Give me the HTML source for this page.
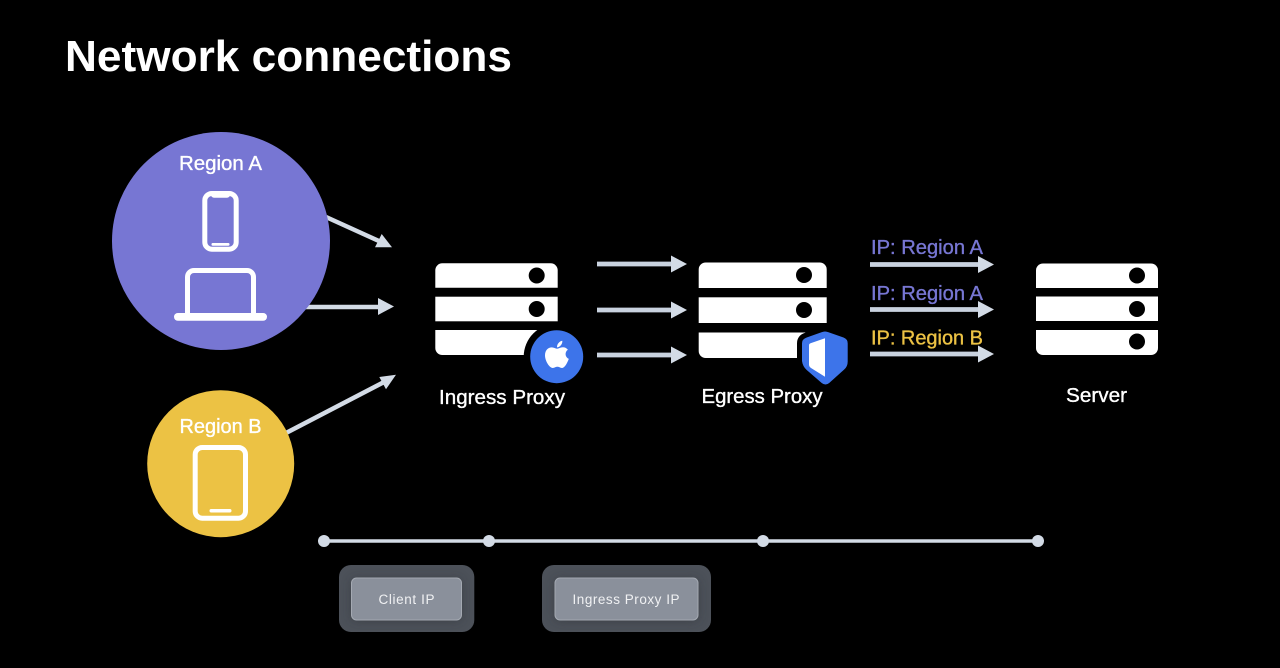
<!DOCTYPE html>
<html><head><meta charset="utf-8"><title>Network connections</title>
<style>html,body{margin:0;padding:0;background:#000;width:1280px;height:668px;overflow:hidden}svg{display:block}
text{font-family:"Liberation Sans",sans-serif}
.m{stroke-width:.35px}</style></head>
<body>
<svg width="1280" height="668" viewBox="0 0 1280 668" xmlns="http://www.w3.org/2000/svg">
<defs>
<filter id="b" x="-30%" y="-50%" width="160%" height="200%"><feGaussianBlur stdDeviation="5"/></filter>
<clipPath id="c1"><rect x="339" y="565" width="135.300" height="67" rx="12"/></clipPath>
<clipPath id="c2"><rect x="542" y="565" width="169" height="67" rx="12"/></clipPath>
</defs>
<rect width="1280" height="668" fill="#000"/>
<text x="65" y="71" font-size="44" font-weight="700" fill="#fff" textLength="447" lengthAdjust="spacingAndGlyphs">Network connections</text>

<!-- connectors from regions -->
<g stroke="#d3dbe6" stroke-width="4.500" fill="none">
<line x1="326" y1="217" x2="380" y2="241.500"/>
<line x1="300" y1="307" x2="380" y2="307"/>
<line x1="286" y1="433" x2="386" y2="381"/>
</g>
<g fill="#d3dbe6">
<polygon points="392,247.300 375,247.300 381.700,234"/>
<polygon points="394,306.500 378,298 378,315"/>
<polygon points="396,374.700 386,389.300 379.300,377"/>
</g>

<!-- Region A -->
<circle cx="221" cy="241" r="109" fill="#7776d3"/>
<text class="m" x="220.500" y="170" font-size="20" fill="#fff" stroke="#fff" text-anchor="middle" textLength="83" lengthAdjust="spacingAndGlyphs">Region A</text>
<rect x="204.800" y="193.500" width="31.400" height="55.700" rx="7" fill="none" stroke="#fff" stroke-width="5"/>
<path d="M211 193h19v1.800a3 3 0 0 1-3 3h-13a3 3 0 0 1-3-3z" fill="#fff"/>
<rect x="211.500" y="243" width="18" height="2.800" rx="1.200" fill="#fff"/>
<path d="M187.500 314V277a6.500 6.500 0 0 1 6.500-6.500h53a6.500 6.500 0 0 1 6.500 6.500v37" fill="none" stroke="#fff" stroke-width="5"/>
<rect x="174" y="313" width="93" height="7.700" rx="3.800" fill="#fff"/>

<!-- Region B -->
<circle cx="220.700" cy="463.700" r="73.500" fill="#ecc244"/>
<text class="m" x="220.500" y="433" font-size="20" fill="#fff" stroke="#fff" text-anchor="middle" textLength="82" lengthAdjust="spacingAndGlyphs">Region B</text>
<rect x="195.200" y="447.500" width="50.300" height="70.700" rx="7" fill="none" stroke="#fff" stroke-width="5"/>
<rect x="209.500" y="509" width="22" height="3.500" rx="1.700" fill="#fff"/>

<!-- Ingress server -->
<path d="M435.300 287.700V270.300a7 7 0 0 1 7-7h108.400a7 7 0 0 1 7 7v17.400z" fill="#fff"/>
<rect x="435.300" y="296.700" width="122.400" height="24.600" fill="#fff"/>
<path d="M435.300 330h122.400v18a7 7 0 0 1-7 7H442.300a7 7 0 0 1-7-7z" fill="#fff"/>
<circle cx="536.700" cy="275.500" r="8" fill="#000"/>
<circle cx="536.700" cy="309" r="8" fill="#000"/>
<circle cx="556.700" cy="356.700" r="33" fill="#000"/>
<circle cx="556.700" cy="356.700" r="26.500" fill="#3d74ea"/>
<path d="M551.800 347.400c2 0 3.700 1.300 5.300 1.300s3.200-1.500 5.800-1.500c2 0 3.800.9 5 2.600-3.400 2.100-3 7.500.9 9.100-1.300 3.500-3.900 9.100-6.800 9.100-1.800 0-2.500-1.200-4.600-1.200s-3 1.200-4.600 1.200c-3.500 0-7.800-7.300-7.800-12.600 0-5.200 3.300-8 6.800-8z" fill="#fff"/>
<path d="M557 347.400c-.2-3.100 2.300-6.100 5.300-6.600.4 3.300-2.500 6.600-5.300 6.600z" fill="#fff"/>
<text class="m" x="502" y="404" font-size="20" fill="#fff" stroke="#fff" text-anchor="middle" textLength="126" lengthAdjust="spacingAndGlyphs">Ingress Proxy</text>

<!-- middle arrows -->
<g stroke="#c9d2df" stroke-width="4.800">
<line x1="597" y1="264" x2="675" y2="264"/>
<line x1="597" y1="310" x2="675" y2="310"/>
<line x1="597" y1="355" x2="675" y2="355"/>
</g>
<g fill="#d3dbe6">
<polygon points="687,264 671,255.500 671,272.500"/>
<polygon points="687,310 671,301.500 671,318.500"/>
<polygon points="687,355 671,346.500 671,363.500"/>
</g>

<!-- Egress server -->
<path d="M698.700 288V269.500a7 7 0 0 1 7-7h114a7 7 0 0 1 7 7V288z" fill="#fff"/>
<rect x="698.700" y="297.300" width="128" height="25.700" fill="#fff"/>
<path d="M698.700 332.500h128v18.500a7 7 0 0 1-7 7h-114a7 7 0 0 1-7-7z" fill="#fff"/>
<circle cx="804" cy="275" r="8" fill="#000"/>
<circle cx="804" cy="310" r="8" fill="#000"/>
<path d="M821.500 332.200q3.500-1.500 7 0l15 5.300q4.200 1.500 4.200 6v18q0 5-3.500 8l-15 13.500q-3.700 3-7.500 0l-15-13q-4-3.500-4.700-9v-17.500q0-4.500 4.700-6z" fill="#000" stroke="#000" stroke-width="10" stroke-linejoin="round"/>
<path d="M821.500 332.200q3.500-1.500 7 0l15 5.300q4.200 1.500 4.200 6v18q0 5-3.500 8l-15 13.500q-3.700 3-7.500 0l-15-13q-4-3.500-4.700-9v-17.500q0-4.500 4.700-6z" fill="#3d74ea"/>
<path d="M825 338.300v38.400l-14-8.700q-2-1.300-2-3.500v-19q0-1.700 1.500-2.200z" fill="#fff"/>
<text class="m" x="762" y="403" font-size="20" fill="#fff" stroke="#fff" text-anchor="middle" textLength="121" lengthAdjust="spacingAndGlyphs">Egress Proxy</text>

<!-- right arrows -->
<g stroke="#c9d2df" stroke-width="4.800">
<line x1="870" y1="264.500" x2="982" y2="264.500"/>
<line x1="870" y1="309.500" x2="982" y2="309.500"/>
<line x1="870" y1="354" x2="982" y2="354"/>
</g>
<g fill="#d3dbe6">
<polygon points="994,264.500 978,256 978,273"/>
<polygon points="994,309.500 978,301 978,318"/>
<polygon points="994,354 978,345.500 978,362.500"/>
</g>
<text class="m" x="871" y="254" font-size="20" fill="#7776d3" stroke="#7776d3" textLength="112" lengthAdjust="spacingAndGlyphs">IP: Region A</text>
<text class="m" x="871" y="300" font-size="20" fill="#7776d3" stroke="#7776d3" textLength="112" lengthAdjust="spacingAndGlyphs">IP: Region A</text>
<text class="m" x="871" y="344.500" font-size="20" fill="#ecc244" stroke="#ecc244" textLength="112" lengthAdjust="spacingAndGlyphs">IP: Region B</text>

<!-- Server -->
<path d="M1036 288V270.500a7 7 0 0 1 7-7h108a7 7 0 0 1 7 7V288z" fill="#fff"/>
<rect x="1036" y="296.500" width="122" height="24.500" fill="#fff"/>
<path d="M1036 330h122v18a7 7 0 0 1-7 7h-108a7 7 0 0 1-7-7z" fill="#fff"/>
<circle cx="1137" cy="275.500" r="8" fill="#000"/>
<circle cx="1137" cy="309" r="8" fill="#000"/>
<circle cx="1137" cy="341.500" r="8" fill="#000"/>
<text class="m" x="1096.500" y="402" font-size="20" fill="#fff" stroke="#fff" text-anchor="middle" textLength="61" lengthAdjust="spacingAndGlyphs">Server</text>

<!-- timeline -->
<line x1="324" y1="541" x2="1038" y2="541" stroke="#d3dbe6" stroke-width="3.500"/>
<g fill="#d3dbe6">
<circle cx="324" cy="541" r="6"/><circle cx="489" cy="541" r="6"/><circle cx="763" cy="541" r="6"/><circle cx="1038" cy="541" r="6"/>
</g>

<!-- tags -->
<rect x="339" y="565" width="135.300" height="67" rx="12" fill="#4c5159"/>
<g clip-path="url(#c1)"><rect x="351.500" y="579" width="110" height="42" rx="5" fill="#2e3238" opacity=".55" filter="url(#b)"/></g>
<rect x="351.500" y="578" width="110" height="42" rx="5" fill="#8a909b" stroke="#a4a9b2" stroke-width="1"/>
<text x="406.500" y="604" font-size="13.500" fill="#f0f1f3" text-anchor="middle" textLength="56" lengthAdjust="spacing">Client IP</text>
<rect x="542" y="565" width="169" height="67" rx="12" fill="#4c5159"/>
<g clip-path="url(#c2)"><rect x="555" y="579" width="143" height="42" rx="5" fill="#2e3238" opacity=".55" filter="url(#b)"/></g>
<rect x="555" y="578" width="143" height="42" rx="5" fill="#8a909b" stroke="#a4a9b2" stroke-width="1"/>
<text x="626" y="604" font-size="13.500" fill="#f0f1f3" text-anchor="middle" textLength="107" lengthAdjust="spacing">Ingress Proxy IP</text>
</svg>
</body></html>
